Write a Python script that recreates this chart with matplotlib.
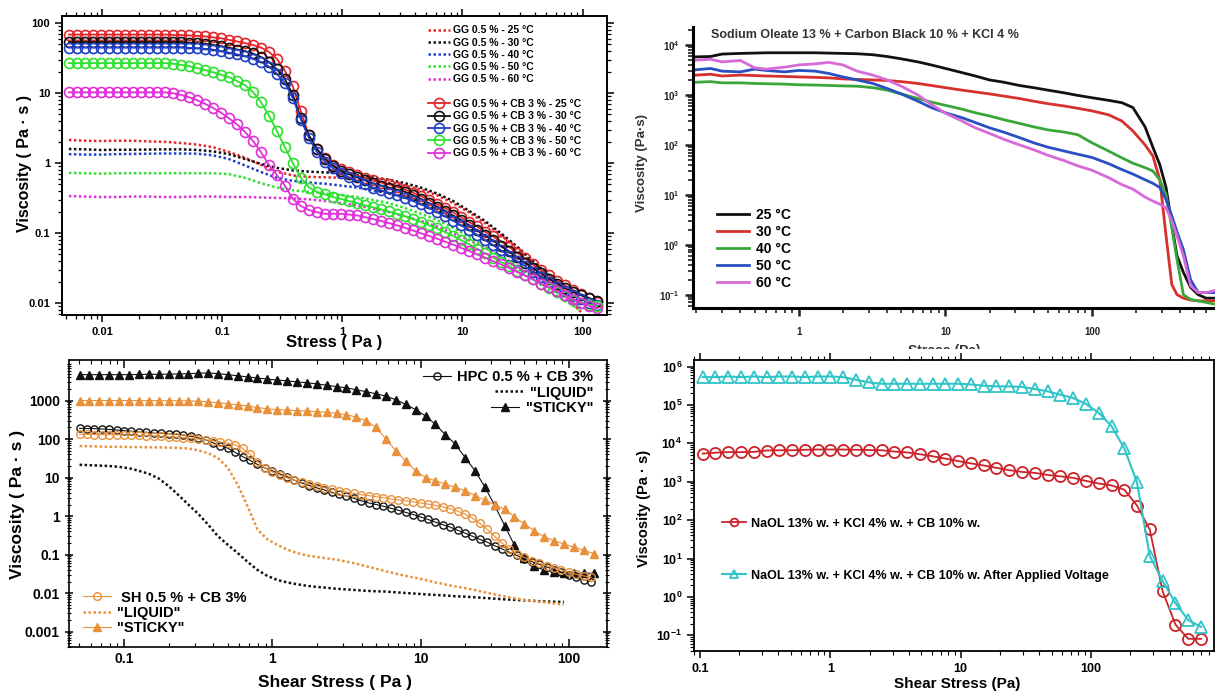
import matplotlib
matplotlib.use('Agg')
import numpy as np
import matplotlib.pyplot as plt
from matplotlib.lines import Line2D
from matplotlib.ticker import LogLocator, NullFormatter
from matplotlib.transforms import Bbox, TransformedBbox

plt.rcParams['font.family'] = ['Liberation Sans', 'DejaVu Sans']
plt.rcParams['font.weight'] = 'bold'
plt.rcParams['axes.labelweight'] = 'bold'
plt.rcParams['mathtext.default'] = 'regular'

# ---------------- Top-left: GG 0.5 % with / without CB ----------------
TL_STRESS = [0.00525, 0.00612, 0.00713, 0.00832, 0.0097, 0.0113, 0.0132, 0.0154, 0.0179, 0.0209,
             0.0244, 0.0284, 0.0331, 0.0386, 0.045, 0.0525, 0.0612, 0.0713, 0.0832, 0.097,
             0.113, 0.132, 0.154, 0.179, 0.209, 0.244, 0.284, 0.331, 0.386, 0.45,
             0.525, 0.612, 0.713, 0.832, 0.97, 1.13, 1.32, 1.54, 1.79, 2.09,
             2.44, 2.84, 3.31, 3.86, 4.5, 5.25, 6.12, 7.13, 8.32, 9.7,
             11.3, 13.2, 15.4, 17.9, 20.9, 24.4, 28.4, 33.1, 38.6, 45,
             52.5, 61.2, 71.3, 83.2, 97, 113, 132]
CB_25 = [69, 69, 69, 69, 69, 69, 69, 69, 69, 69, 69, 69, 69, 68, 68,
         67, 66, 65, 63, 61, 58, 55, 52, 49, 45, 39, 31, 21, 12.5, 5.5, 2.5, 1.6, 1.2, 0.95, 0.82,
         0.74, 0.67, 0.62, 0.57, 0.53, 0.5, 0.46, 0.42, 0.38, 0.34, 0.30, 0.26, 0.23, 0.2, 0.17,
         0.145, 0.125, 0.105, 0.09, 0.077, 0.064, 0.053, 0.044, 0.036, 0.03, 0.025, 0.021, 0.018,
         0.0155, 0.0135, 0.012, 0.0105]
CB_30 = [54, 54, 54, 54, 54, 54, 54, 54, 54, 54, 54, 54, 54, 54, 54,
         53, 52, 51, 49, 47, 45, 42, 40, 37, 33, 28, 22, 16, 9.5, 4.4, 2.5, 1.6, 1.15, 0.92, 0.78,
         0.7, 0.63, 0.57, 0.52, 0.48, 0.45, 0.42, 0.39, 0.35, 0.31, 0.27, 0.24, 0.21, 0.18, 0.155,
         0.13, 0.11, 0.093, 0.079, 0.066, 0.055, 0.046, 0.038, 0.032, 0.027, 0.0225, 0.019, 0.0165,
         0.0145, 0.013, 0.0118, 0.0108]
CB_40 = [45, 45, 45, 45, 45, 45, 45, 45, 45, 45, 45, 45, 45, 45, 45,
         44.5, 44, 43, 42, 40, 38, 36, 34, 31, 28, 24, 19, 14, 8.5, 4.2, 2.3, 1.45, 1.05, 0.85, 0.72,
         0.63, 0.56, 0.5, 0.45, 0.41, 0.38, 0.35, 0.32, 0.29, 0.26, 0.23, 0.2, 0.175, 0.152, 0.13,
         0.112, 0.095, 0.08, 0.068, 0.057, 0.048, 0.04, 0.034, 0.028, 0.024, 0.02, 0.017, 0.0148,
         0.013, 0.0115, 0.0102, 0.0093]
CB_50 = [27, 27, 27, 27, 27, 27, 27, 27, 27, 27, 27, 27, 27,
         26.5, 25.5, 24.5, 23, 21.5, 20, 18.5, 17, 15, 13, 10.5, 7.5, 4.8, 2.9, 1.7, 1.0, 0.62, 0.45,
         0.39, 0.36, 0.33, 0.31,
         0.29, 0.27, 0.25, 0.235, 0.22, 0.205, 0.19, 0.175, 0.16, 0.145, 0.13, 0.117, 0.104, 0.092,
         0.08, 0.07, 0.06, 0.052, 0.045, 0.039, 0.034, 0.029, 0.025, 0.022, 0.019, 0.0165, 0.0145,
         0.0128, 0.0113, 0.0102, 0.0095, 0.009]
CB_60 = [10.3, 10.3, 10.3, 10.3, 10.3, 10.3, 10.3, 10.3, 10.3, 10.3, 10.3, 10.3, 10.3,
         10, 9.5, 8.8, 8.0, 7.1, 6.2, 5.3, 4.4, 3.6, 2.8, 2.1, 1.45, 0.95, 0.68, 0.48, 0.31, 0.245,
         0.215, 0.2, 0.19, 0.19, 0.19,
         0.185, 0.18, 0.17, 0.16, 0.15, 0.14, 0.13, 0.12, 0.11, 0.1, 0.092, 0.084, 0.076, 0.069,
         0.062, 0.056, 0.05, 0.045, 0.04, 0.036, 0.032, 0.028, 0.025, 0.022, 0.019, 0.017, 0.015,
         0.013, 0.0115, 0.0102, 0.0092, 0.0085]

GG_STRESS = [0.00525, 0.00713, 0.0097, 0.0132, 0.0179, 0.0244, 0.0331, 0.045, 0.0612, 0.0832,
             0.113, 0.154, 0.209, 0.284, 0.386, 0.525, 0.713, 0.97, 1.32, 1.79,
             2.44, 3.31, 4.5, 6.12, 8.32, 11.3, 15.4, 20.9, 28.4, 38.6, 52.5, 71.3, 97]
GG_25 = [2.15, 2.1, 2.08, 2.1, 2.1, 2.05, 2.02, 1.95, 1.85, 1.7, 1.45, 1.2, 0.95, 0.76, 0.67,
         0.64, 0.63, 0.62, 0.6, 0.57, 0.53, 0.48, 0.42, 0.35, 0.27, 0.2, 0.14, 0.095, 0.06, 0.037,
         0.022, 0.013, 0.0075]
GG_30 = [1.6, 1.58, 1.55, 1.56, 1.56, 1.57, 1.58, 1.58, 1.55, 1.48, 1.35, 1.15, 0.98, 0.86, 0.79,
         0.76, 0.74, 0.72, 0.68, 0.63, 0.58, 0.52, 0.45, 0.37, 0.29, 0.21, 0.15, 0.1, 0.065, 0.04,
         0.025, 0.016, 0.011]
GG_40 = [1.35, 1.33, 1.33, 1.35, 1.36, 1.37, 1.38, 1.38, 1.37, 1.3, 1.15, 0.93, 0.75, 0.62, 0.56,
         0.53, 0.51, 0.48, 0.45, 0.41, 0.37, 0.32, 0.27, 0.22, 0.17, 0.13, 0.095, 0.066, 0.045, 0.03,
         0.02, 0.0135, 0.009]
GG_50 = [0.73, 0.72, 0.71, 0.72, 0.72, 0.72, 0.72, 0.72, 0.72, 0.72, 0.7, 0.62, 0.52, 0.45, 0.41,
         0.39, 0.37, 0.35, 0.33, 0.3, 0.27, 0.23, 0.19, 0.155, 0.12, 0.09, 0.065, 0.046, 0.032, 0.022,
         0.015, 0.011, 0.0078]
GG_60 = [0.34, 0.335, 0.33, 0.33, 0.335, 0.335, 0.33, 0.33, 0.335, 0.335, 0.33, 0.33, 0.325, 0.32,
         0.315, 0.305, 0.29, 0.27, 0.25, 0.225, 0.2, 0.175, 0.15, 0.125, 0.1, 0.08, 0.062, 0.047,
         0.035, 0.025, 0.018, 0.012, 0.0085]
TL_TEMPS = ['25', '30', '40', '50', '60']
TL_XTICKS = [0.01, 0.1, 1, 10, 100]
TL_XTICKLABELS = ['0.01', '0.1', '1', '10', '100']
TL_YTICKS = [0.01, 0.1, 1, 10, 100]
TL_YTICKLABELS = ['0.01', '0.1', '1', '10', '100']

# ---------------- Top-right: Sodium oleate ----------------
TR_STRESS = [0.2, 0.25, 0.3, 0.4, 0.5, 0.6, 0.8, 1,
             1.3, 1.6, 2, 2.5, 3.2, 4, 5, 6.5, 8, 10,
             13, 16, 20, 25, 32, 40, 50, 65, 80, 100,
             130, 160, 190, 230, 260, 290, 320, 350, 380, 420, 470, 530, 600, 680]
SO_25 = [5800, 5900, 6600, 6800, 6900, 7000, 7000, 7000,
         7000, 6900, 6800, 6700, 6400, 5900, 5300, 4600, 4000, 3400,
         2800, 2400, 2000, 1800, 1550, 1400, 1250, 1100, 980, 880,
         780, 700, 560, 230, 90, 40, 14, 2.5, 0.6, 0.28, 0.14, 0.1, 0.085, 0.085]
SO_30 = [2500, 2600, 2400, 2500, 2450, 2400, 2350, 2300,
         2250, 2200, 2100, 2050, 2000, 1950, 1850, 1700, 1550, 1400,
         1250, 1150, 1050, 950, 850, 750, 670, 600, 540, 480,
         400, 300, 190, 100, 60, 20, 1.5, 0.16, 0.1, 0.085, 0.078, 0.075, 0.075, 0.075]
SO_40 = [1800, 1850, 1750, 1750, 1700, 1680, 1650, 1600,
         1580, 1550, 1520, 1500, 1400, 1250, 1050, 850, 720, 620,
         520, 440, 380, 320, 270, 230, 200, 180, 160, 110,
         75, 55, 43, 35, 30, 20, 10, 2.2, 0.5, 0.1, 0.08, 0.075, 0.07, 0.065]
SO_50 = [3200, 3400, 3000, 2900, 3300, 3100, 2900, 3100,
         3000, 2700, 2300, 2000, 1700, 1350, 1050, 750, 560, 440,
         350, 280, 220, 180, 140, 110, 90, 75, 65, 56,
         42, 32, 26, 20, 17, 14, 8, 3.8, 1.8, 0.8, 0.2, 0.11, 0.11, 0.11]
SO_60 = [5000, 5200, 4600, 4900, 3500, 3300, 3600, 4000,
         4200, 4500, 4000, 3000, 2500, 2000, 1500, 1000, 650, 430,
         300, 220, 170, 130, 100, 80, 62, 48, 38, 31,
         22, 16, 13, 9, 7.5, 6.5, 5.5, 3, 1.5, 0.6, 0.15, 0.11, 0.11, 0.12]
TR_LABELS = ['25 °C', '30 °C', '40 °C', '50 °C', '60 °C']
TR_XTICKS = [1, 10, 100]
TR_XTICKLABELS = ['1', '10', '100']
TR_YTICKS = [0.1, 1, 10, 100, 1000, 10000]
TR_YTICKLABELS = ['10$^{-1}$', '10$^{0}$', '10$^{1}$', '10$^{2}$', '10$^{3}$', '10$^{4}$']

# ---------------- Bottom-left: HPC / SH ----------------
BL_STRESS = [0.0501, 0.0562, 0.0631, 0.0708, 0.0794, 0.0891, 0.1, 0.112, 0.126, 0.141,
             0.158, 0.178, 0.2, 0.224, 0.251, 0.282, 0.316, 0.355, 0.398, 0.447,
             0.501, 0.562, 0.631, 0.708, 0.794, 0.891, 1.0, 1.12, 1.26, 1.41,
             1.58, 1.78, 2.0, 2.24, 2.51, 2.82, 3.16, 3.55, 3.98, 4.47,
             5.01, 5.62, 6.31, 7.08, 7.94, 8.91, 10, 11.2, 12.6, 14.1,
             15.8, 17.8, 20, 22.4, 25.1, 28.2, 31.6, 35.5, 39.8, 44.7,
             50.1, 56.2, 63.1, 70.8, 79.4, 89.1, 100, 112, 126, 141]
HPC_CB = [190, 188, 186, 183, 178, 172, 165, 160, 155, 150,
          146, 142, 138, 133, 126, 118, 108, 95, 80, 68,
          58, 45, 35, 28, 22, 18, 15, 12.5, 10.5, 8.5,
          7.2, 6.2, 5.4, 4.8, 4.2, 3.7, 3.3, 2.9, 2.5, 2.2,
          2.0, 1.8, 1.6, 1.42, 1.25, 1.1, 0.95, 0.82, 0.7, 0.6,
          0.52, 0.43, 0.36, 0.3, 0.25, 0.21, 0.17, 0.14, 0.115, 0.095,
          0.078, 0.066, 0.056, 0.048, 0.041, 0.035, 0.03, 0.026, 0.022, 0.02]
SH_CB = [133, 132, 131, 130, 130, 129, 128, 127, 125, 123,
         121, 118, 115, 112, 108, 104, 100, 95, 90, 84,
         78, 70, 57, 40, 26, 18, 14, 11.5, 9.8, 8.6,
         7.6, 6.8, 6.1, 5.5, 5.0, 4.6, 4.2, 3.9, 3.6, 3.4,
         3.2, 3.0, 2.8, 2.65, 2.5, 2.35, 2.2, 2.05, 1.9, 1.75,
         1.55, 1.35, 1.12, 0.88, 0.65, 0.45, 0.3, 0.2, 0.14, 0.105,
         0.085, 0.07, 0.06, 0.052, 0.046, 0.04, 0.035, 0.031, 0.028, 0.026]
BL_STRESS_T = [0.0501, 0.0584, 0.0681, 0.0794, 0.0926, 0.108, 0.126, 0.147, 0.171, 0.2,
               0.233, 0.271, 0.316, 0.369, 0.43, 0.501, 0.584, 0.681, 0.794, 0.926,
               1.08, 1.26, 1.47, 1.71, 2.0, 2.33, 2.71, 3.16, 3.69, 4.3,
               5.01, 5.84, 6.81, 7.94, 9.26, 10.8, 12.6, 14.7, 17.1, 20,
               23.3, 27.1, 31.6, 36.9, 43, 50.1, 58.4, 68.1, 79.4, 92.6,
               108, 126, 147]
HPC_STICKY = [4700, 4700, 4700, 4700, 4700, 4700, 4750, 4800, 4800, 4850,
              4900, 5000, 5100, 5200, 5000, 4700, 4400, 4100, 3850, 3600,
              3400, 3250, 3050, 2900, 2700, 2500, 2300, 2150, 1900, 1700,
              1500, 1300, 1050, 800, 580, 400, 240, 130, 75, 33,
              15, 5.8, 1.9, 0.57, 0.175, 0.08, 0.05, 0.04, 0.036, 0.034,
              0.033, 0.033, 0.033]
SH_STICKY = [1000, 1000, 1000, 1000, 1000, 1000, 995, 995, 990, 990,
             990, 980, 960, 930, 880, 830, 780, 720, 660, 610,
             580, 565, 550, 535, 515, 495, 465, 430, 370, 300,
             200, 100, 50, 27, 15, 10, 8.3, 6.8, 5.6, 4.6,
             3.4, 2.6, 2.0, 1.5, 0.95, 0.63, 0.42, 0.29, 0.23, 0.19,
             0.155, 0.13, 0.107]
HPC_LIQUID = [21.5, 21, 20.5, 20, 19, 17.5, 15, 12.5, 9.5, 6.0,
              3.5, 2.0, 1.15, 0.6, 0.3, 0.18, 0.11, 0.065, 0.04, 0.028,
              0.022, 0.019, 0.017, 0.0155, 0.0145, 0.0138, 0.013, 0.0125, 0.012, 0.0115,
              0.0112, 0.011, 0.0105, 0.0101, 0.0097, 0.0093, 0.009, 0.0087, 0.0083, 0.0081,
              0.0078, 0.0075, 0.0072, 0.0069, 0.0067, 0.0065, 0.0063, 0.0061, 0.006, 0.0059]
SH_LIQUID = [66, 65, 64, 63, 63, 62, 62, 61, 61, 60,
             59, 57, 51, 43, 32, 18, 6.5, 1.8, 0.45, 0.25,
             0.18, 0.135, 0.11, 0.095, 0.087, 0.08, 0.074, 0.066, 0.058, 0.05,
             0.043, 0.037, 0.032, 0.028, 0.025, 0.022, 0.019, 0.0168, 0.015, 0.0135,
             0.012, 0.0105, 0.0093, 0.0082, 0.0074, 0.0067, 0.0062, 0.0058, 0.0054, 0.0051]
BL_XTICKS = [0.1, 1, 10, 100]
BL_XTICKLABELS = ['0.1', '1', '10', '100']
BL_YTICKS = [0.001, 0.01, 0.1, 1, 10, 100, 1000]
BL_YTICKLABELS = ['0.001', '0.01', '0.1', '1', '10', '100', '1000']

# ---------------- Bottom-right: NaOL before / after voltage ----------------
BR_STRESS = [0.105, 0.1315, 0.165, 0.2065, 0.259, 0.324, 0.406, 0.509, 0.638, 0.80,
             1.0, 1.256, 1.574, 1.972, 2.47, 3.10, 3.88, 4.86, 6.10, 7.64,
             9.57, 12.0, 15.0, 18.8, 23.6, 29.6, 37.1, 46.5, 58.2, 72.9,
             91.4, 114.5, 143.5, 180, 225, 282, 354, 444, 556, 697]
NAOL = [5400, 5700, 5900, 5900, 6000, 6500, 6600, 6600, 6800, 6900,
        6900, 6900, 6800, 6700, 6600, 6100, 5800, 5200, 4600, 4000,
        3450, 3000, 2650, 2300, 2000, 1800, 1700, 1500, 1380, 1260,
        1050, 900, 800, 620, 240, 57, 1.4, 0.19, 0.081, 0.081]
NAOL_V = [530000, 530000, 550000, 530000, 550000, 530000, 550000, 550000, 530000, 550000,
          550000, 530000, 452000, 386000, 356000, 356000, 356000, 356000, 356000, 356000,
          356000, 342000, 316000, 304000, 304000, 295000, 260000, 225000, 185000, 152000,
          106000, 62000, 28000, 7400, 960, 11.7, 2.6, 0.69, 0.25, 0.166]
BR_XTICKS = [0.1, 1, 10, 100]
BR_XTICKLABELS = ['0.1', '1', '10', '100']
BR_YTICKS = [0.1, 1, 10, 100, 1e3, 1e4, 1e5, 1e6]
BR_YTICKLABELS = ['10$^{-1}$', '10$^{0}$', '10$^{1}$', '10$^{2}$', '10$^{3}$',
                  '10$^{4}$', '10$^{5}$', '10$^{6}$']

# ======================================================================
W, H = 1215, 693
fig = plt.figure(figsize=(W / 100, H / 100), dpi=100)


def add_ax(l, t, r, b):
    return fig.add_axes([l / W, 1 - b / H, (r - l) / W, (b - t) / H])


def log_minor(ax):
    for a in (ax.xaxis, ax.yaxis):
        a.set_minor_locator(LogLocator(base=10, subs=np.arange(2, 10), numticks=100))
        a.set_minor_formatter(NullFormatter())


DOT = (0, (1, 1))

# ---------- Top-left ----------
ax = add_ax(62, 16, 607, 315)
tl_cols = ['#e3262b', '#111111', '#2040c8', '#2fe02f', '#e030d8']
gg_series = [GG_25, GG_30, GG_40, GG_50, GG_60]
cb_series = [CB_25, CB_30, CB_40, CB_50, CB_60]
gg_h, cb_h = [], []
for t, c, ys in zip(TL_TEMPS, tl_cols, gg_series):
    h, = ax.plot(GG_STRESS, ys, color=c, ls=DOT, lw=1.8,
                 label=f'GG 0.5 % - {t} °C')
    gg_h.append(h)
for t, c, ys in zip(TL_TEMPS, tl_cols, cb_series):
    h, = ax.plot(TL_STRESS, ys, color=c, lw=1.3, marker='o', ms=7.2,
                 mfc='none', mew=1.2, label=f'GG 0.5 % + CB 3 % - {t} °C')
    cb_h.append(h)
ax.set_xscale('log')
ax.set_yscale('log')
log_minor(ax)
ax.set_xticks(TL_XTICKS, TL_XTICKLABELS)
ax.set_yticks(TL_YTICKS, TL_YTICKLABELS)
ax.set_xlim(0.0046, 160)
ax.set_ylim(0.0068, 127)
ax.tick_params(which='both', direction='out', top=True, right=True, labelsize=8)
ax.tick_params(which='major', length=5, width=1.1)
ax.tick_params(which='minor', length=3, width=0.9)
for s in ax.spines.values():
    s.set_linewidth(1.4)
for lab in ax.get_xticklabels() + ax.get_yticklabels():
    lab.set_fontweight('bold')
ax.set_xlabel('Stress ( Pa )', fontsize=12, fontweight='bold')
ax.set_ylabel('Viscosity ( Pa · s )', fontsize=11.5, fontweight='bold')
ax.xaxis.set_label_coords(0.50, -0.068)
ax.yaxis.set_label_coords(-0.055, 0.508)
blank = Line2D([], [], color='none', label=' ')
ax.legend(handles=gg_h + [blank] + cb_h, loc='upper left', bbox_to_anchor=(0.66, 0.99),
          frameon=False, prop={'weight': 'bold', 'size': 7.5},
          handlelength=2.1, handletextpad=0.35, labelspacing=0.22, borderaxespad=0.2,
          numpoints=1)

# ---------- Top-right ----------
ax = add_ax(693, 27, 1215, 308)
tr_cols = ['#111111', '#d6312c', '#3aa63a', '#2a4fc0', '#d86ad8']
for lab, c, ys in zip(TR_LABELS, tr_cols, [SO_25, SO_30, SO_40, SO_50, SO_60]):
    ax.plot(TR_STRESS, ys, color=c, lw=2.0, label=lab)
ax.set_xscale('log')
ax.set_yscale('log')
log_minor(ax)
ax.set_xticks(TR_XTICKS, TR_XTICKLABELS)
ax.set_yticks(TR_YTICKS, TR_YTICKLABELS)
ax.set_xlim(0.19, 690)
ax.set_ylim(0.054, 23000)
ax.spines[['top', 'right']].set_visible(False)
for s in ('left', 'bottom'):
    ax.spines[s].set_linewidth(2.2)
ax.tick_params(which='both', direction='out', labelsize=7, colors='#222222')
ax.tick_params(which='major', length=6, width=1.8)
ax.tick_params(which='minor', length=3.5, width=1.2)
ax.tick_params(axis='x', which='major', pad=8)
ax.text(0.035, 0.97, 'Sodium Oleate 13 % + Carbon Black 10 % + KCl 4 %',
        transform=ax.transAxes, fontsize=9, fontweight='bold', color='#333333', va='center')
ax.set_ylabel('Viscosity (Pa·s)', fontsize=9.5, fontweight='bold', color='#333333')
ax.set_xlabel('Stress (Pa)', fontsize=10, fontweight='bold', color='#333333')
ax.yaxis.set_label_coords(-0.086, 0.516)
ax.xaxis.set_label_coords(0.481, -0.128)
ax.xaxis.label.set_clip_box(TransformedBbox(Bbox([[0, (H - 349) / H], [1, 1]]), fig.transFigure))
ax.xaxis.label.set_clip_on(True)
ax.legend(loc='lower left', bbox_to_anchor=(0.035, 0.045), frameon=False,
          prop={'weight': 'bold', 'size': 10}, handlelength=2.3, handletextpad=0.5,
          labelspacing=0.22, borderaxespad=0)

# ---------- Bottom-left ----------
ax = add_ax(69, 360, 607, 647)
org = '#e8913a'
h1, = ax.plot(BL_STRESS, HPC_CB, color='#111111', lw=0.8, marker='o', ms=5.2, mfc='none',
              mew=1.0, label='HPC 0.5 % + CB 3%')
h2, = ax.plot(BL_STRESS_T[:50], HPC_LIQUID, color='#111111', ls=DOT, lw=1.8, label='"LIQUID"')
h3, = ax.plot(BL_STRESS_T, HPC_STICKY, color='#111111', lw=0.8, marker='^', ms=5.5,
              label='"STICKY"')
h4, = ax.plot(BL_STRESS, SH_CB, color=org, lw=0.8, marker='o', ms=5.5, mfc='none',
              mew=1.0, label=' SH 0.5 % + CB 3%')
h5, = ax.plot(BL_STRESS_T[:50], SH_LIQUID, color=org, ls=DOT, lw=1.8, label='"LIQUID"')
h6, = ax.plot(BL_STRESS_T, SH_STICKY, color=org, lw=0.8, marker='^', ms=6, label='"STICKY"')
ax.set_xscale('log')
ax.set_yscale('log')
log_minor(ax)
ax.set_xticks(BL_XTICKS, BL_XTICKLABELS)
ax.set_yticks(BL_YTICKS, BL_YTICKLABELS)
ax.set_xlim(0.0425, 181)
ax.set_ylim(0.0004, 11300)
ax.tick_params(axis='x', which='both', direction='in', top=True, bottom=True)
ax.tick_params(axis='y', which='both', direction='inout', left=True, right=True)
ax.tick_params(which='major', length=6, width=1.1, labelsize=10)
ax.tick_params(which='minor', length=3, width=0.8)
for s in ax.spines.values():
    s.set_linewidth(1.2)
ax.set_xlabel('Shear Stress ( Pa )', fontsize=12.5, fontweight='bold')
ax.set_ylabel('Viscosity ( Pa · s )', fontsize=12.5, fontweight='bold')
ax.xaxis.set_label_coords(0.494, -0.097)
ax.yaxis.set_label_coords(-0.082, 0.495)
leg1 = ax.legend(handles=[h1, h2, h3], loc='upper right', bbox_to_anchor=(0.985, 0.985),
                 frameon=False, prop={'weight': 'bold', 'size': 10.5}, handlelength=1.9,
                 handletextpad=0.45, labelspacing=0.1, borderaxespad=0, numpoints=1)
for col in leg1._legend_handle_box.get_children():
    col.align = 'right'
ax.add_artist(leg1)
ax.legend(handles=[h4, h5, h6], loc='lower left', bbox_to_anchor=(0.015, 0.02),
          frameon=False, prop={'weight': 'bold', 'size': 10.5}, handlelength=1.9,
          handletextpad=0.45, labelspacing=0.1, borderaxespad=0, numpoints=1)

# ---------- Bottom-right ----------
ax = add_ax(694, 360, 1214, 651)
ax.plot(BR_STRESS, NAOL, color='#cc2229', lw=1.3, marker='o', ms=8, mfc='none', mew=1.3,
        label='NaOL 13% w. + KCl 4% w. + CB 10% w.')
ax.plot(BR_STRESS, NAOL_V, color='#2fc4c8', lw=1.5, marker='^', ms=8.5, mfc='none', mew=1.3,
        label='NaOL 13% w. + KCl 4% w. + CB 10% w. After Applied Voltage')
ax.set_xscale('log')
ax.set_yscale('log')
log_minor(ax)
ax.set_xticks(BR_XTICKS, BR_XTICKLABELS)
ax.set_yticks(BR_YTICKS, BR_YTICKLABELS)
ax.set_xlim(0.09, 877)
ax.set_ylim(0.039, 1.48e6)
ax.tick_params(which='both', direction='out', top=True, right=False, labelsize=9)
ax.tick_params(which='major', length=5, width=1.1)
ax.tick_params(which='minor', length=3, width=0.8)
for s in ax.spines.values():
    s.set_linewidth(1.3)
ax.set_xlabel('Shear Stress (Pa)', fontsize=11, fontweight='bold')
ax.set_ylabel('Viscosity (Pa · s)', fontsize=10.5, fontweight='bold')
ax.xaxis.set_label_coords(0.506, -0.09)
ax.yaxis.set_label_coords(-0.083, 0.49)
ax.legend(loc='upper left', bbox_to_anchor=(0.045, 0.475), frameon=False,
          prop={'weight': 'bold', 'size': 9}, handlelength=1.9, handletextpad=0.4,
          labelspacing=3.2, borderaxespad=0, numpoints=1, markerscale=0.7)

fig.savefig('out.png', dpi=100)
